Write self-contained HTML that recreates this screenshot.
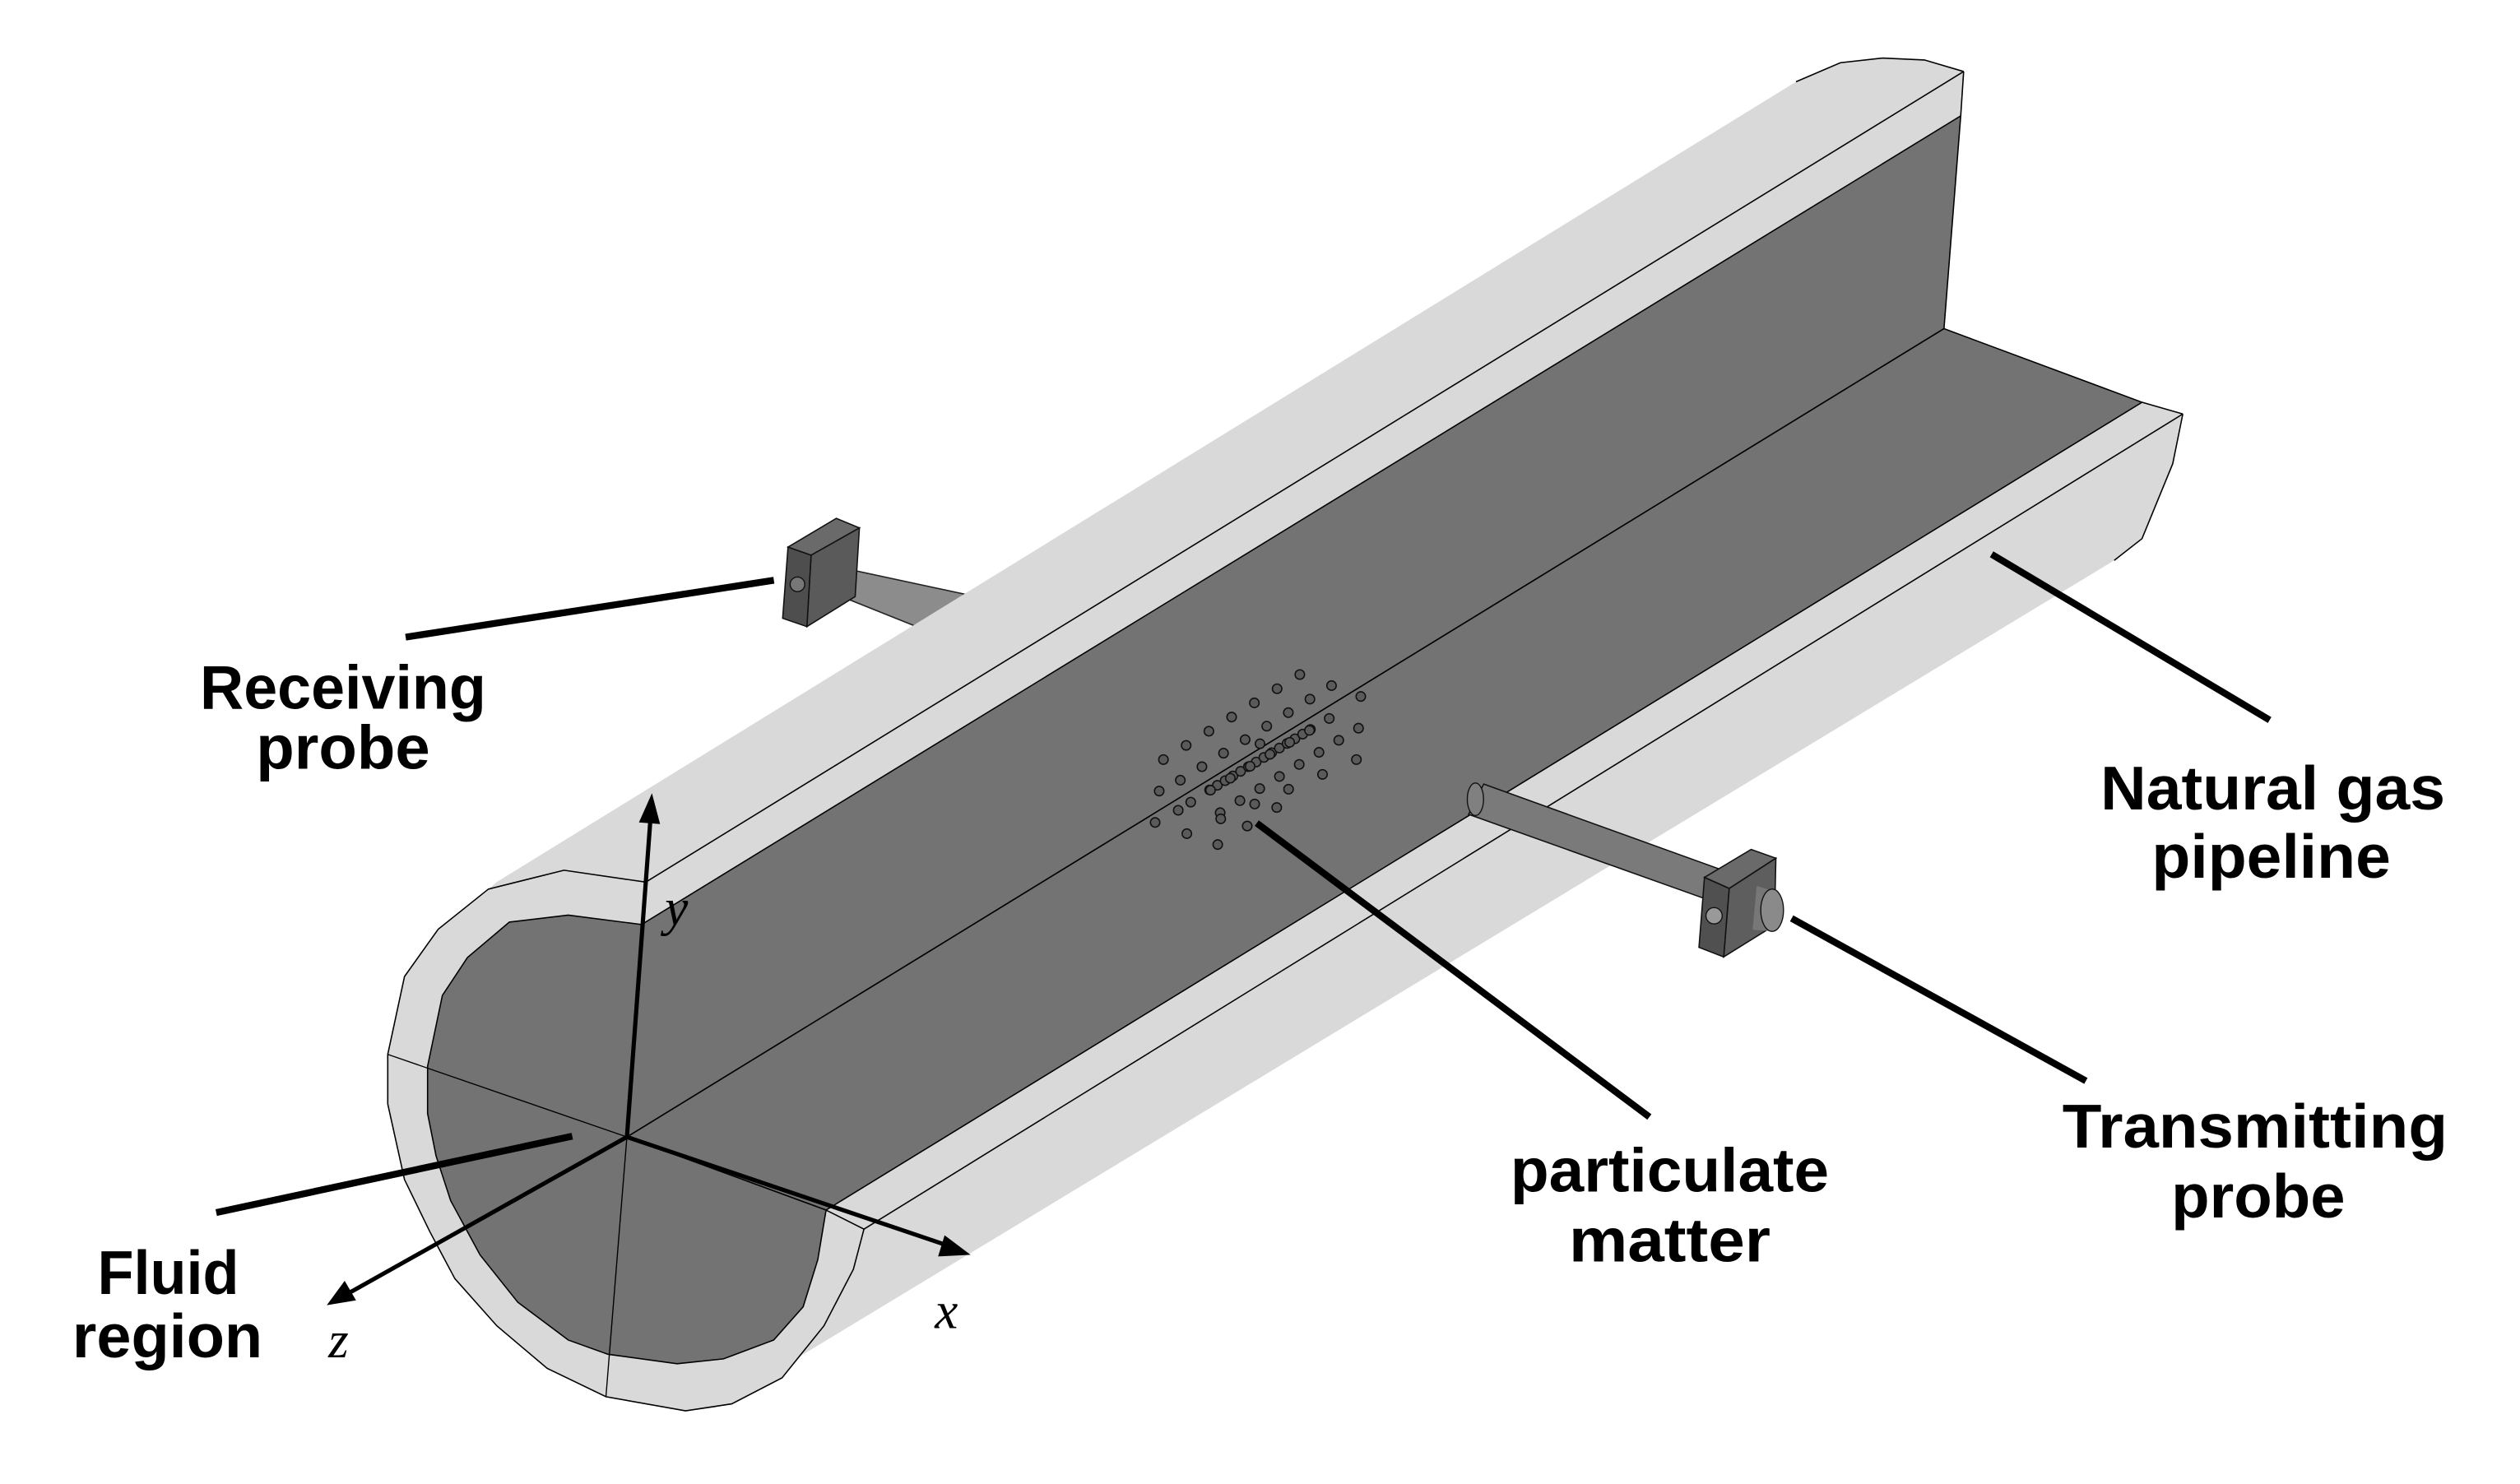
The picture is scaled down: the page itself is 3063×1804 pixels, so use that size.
<!DOCTYPE html>
<html><head><meta charset="utf-8"><style>
html,body{margin:0;padding:0;background:#fff;}
svg{display:block;}
.lbl{font-family:"Liberation Sans",sans-serif;font-weight:bold;font-size:38px;fill:#000;}
.ax{font-family:"Liberation Serif",serif;font-style:italic;font-size:32px;fill:#000;}
</style></head><body>
<svg width="3063" height="1804" viewBox="0 0 1550 913" preserveAspectRatio="none" xmlns="http://www.w3.org/2000/svg">
<rect width="1550" height="913" fill="#fff"/>
<!-- receiving probe rod (behind pipe) -->
<polygon points="509.2,347.5 600,367 580,392 506.7,362.7" fill="#8c8c8c" stroke="#222" stroke-width="0.8"/>
<polygon points="484.7,336.6 514.4,318.9 528.6,324.8 498.9,341.6" fill="#6a6a6a" stroke="#111" stroke-width="0.8"/>
<polygon points="498.9,341.6 528.6,324.8 526,367 496.3,385.5" fill="#5a5a5a" stroke="#111" stroke-width="0.8"/>
<polygon points="484.7,336.6 498.9,341.6 496.3,385.5 481.4,380.4" fill="#4e4e4e" stroke="#111" stroke-width="0.8"/>
<circle cx="490.5" cy="359.5" r="4.5" fill="#777" stroke="#111" stroke-width="0.7"/>
<!-- pipe body -->
<polygon points="305.6,542.6 1104.7,50.3 1132,38.6 1158,35.7 1183.7,36.9 1207.8,44 1206,71.3 1195.7,202.2 1317.5,247.5 1342.6,254.7 1336.4,285.3 1317.5,331.4 1300.4,344.8 440,866 421.7,868 372.7,859.3 336.6,841.9 305.6,815.7 279.8,786.7 264.3,757.6 248.8,725.7 238.5,679.2 238.5,648.7 248.8,600.8 269.5,571.7 300.4,547" fill="#d9d9d9"/>
<polyline points="1104.7,50.3 1132,38.6 1158,35.7 1183.7,36.9 1207.8,44" fill="none" stroke="#000" stroke-width="0.8"/>
<polyline points="1342.6,254.7 1336.4,285.3 1317.5,331.4 1300.4,344.8" fill="none" stroke="#000" stroke-width="0.8"/>
<!-- wall & floor -->
<polygon points="394.6,568.8 1206,71.3 1195.7,202.2 385.6,699.5" fill="#737373" stroke="#000" stroke-width="0.8"/>
<polygon points="385.6,699.5 1195.7,202.2 1317.5,247.5 508.1,744.5" fill="#737373" stroke="#000" stroke-width="0.8"/>
<line x1="397.2" y1="542.7" x2="1207.8" y2="44" stroke="#000" stroke-width="0.8"/>
<line x1="531.4" y1="756.2" x2="1342.6" y2="254.7" stroke="#000" stroke-width="0.8"/>
<line x1="1207.8" y1="44" x2="1206" y2="71.3" stroke="#000" stroke-width="0.8"/>
<line x1="1317.5" y1="247.5" x2="1342.6" y2="254.7" stroke="#000" stroke-width="0.8"/>
<!-- front face -->
<polygon points="397.2,542.7 346.9,535.4 300.4,547 269.5,571.7 248.8,600.8 238.5,648.7 238.5,679.2 248.8,725.7 264.3,757.6 279.8,786.7 305.6,815.7 336.6,841.9 372.7,859.3 421.7,868 450.1,863.7 481,847.7 506.8,815.7 524.9,780.9 531.4,756.2 508.1,744.5 385.6,699.5 394.6,568.8" fill="#d9d9d9" stroke="#000" stroke-width="0.8"/>
<polygon points="394.6,568.8 349.5,563 313.3,567.3 287.5,589.1 272.1,612.4 263,656 263,685 268.2,711.1 277.2,738.7 295.3,772.1 318.5,801.2 349.5,824.4 374,833.2 416.5,839 445,836 475.9,824.4 494,804 503,775 508.1,744.5 385.6,699.5" fill="#737373" stroke="#000" stroke-width="0.8"/>
<line x1="385.6" y1="699.5" x2="238.5" y2="648.7" stroke="#000" stroke-width="0.7"/>
<line x1="385.6" y1="699.5" x2="372.7" y2="859.3" stroke="#000" stroke-width="0.7"/>
<!-- particles -->
<g id="pts" fill="#5a5a5a" stroke="#111" stroke-width="0.8"></g>
<!-- transmitting probe -->
<polygon points="912.6,482.4 1057.7,534.7 1047.6,552.5 903.3,501" fill="#7a7a7a" stroke="#111" stroke-width="0.8"/>
<ellipse cx="907.5" cy="491.7" rx="5" ry="10" fill="#808080" stroke="#111" stroke-width="0.7"/>
<polygon points="1048.4,539.8 1077.1,522.6 1092.3,528 1063.6,546.6" fill="#6a6a6a" stroke="#111" stroke-width="0.8"/>
<polygon points="1063.6,546.6 1092.3,528 1091.4,569.3 1060.2,588.7" fill="#5e5e5e" stroke="#111" stroke-width="0.8"/>
<polygon points="1048.4,539.8 1063.6,546.6 1060.2,588.7 1045,582.8" fill="#505050" stroke="#111" stroke-width="0.8"/>
<polygon points="1080.5,545 1090,548 1092,573 1078,572" fill="#777"/>
<ellipse cx="1090" cy="560" rx="7" ry="13" fill="#8a8a8a" stroke="#111" stroke-width="0.7"/>
<circle cx="1054.3" cy="563.4" r="5" fill="#999" stroke="#111" stroke-width="0.7"/>
<!-- axes -->
<g stroke="#000" stroke-width="2.6" fill="none">
<line x1="385.6" y1="699.5" x2="400" y2="505"/>
<line x1="385.6" y1="699.5" x2="585" y2="767"/>
<line x1="385.6" y1="699.5" x2="212" y2="797"/>
</g>
<polygon points="401,488 393,506 406,507" fill="#000"/>
<polygon points="597,772 581,760 577,773" fill="#000"/>
<polygon points="201,803 219,800 212,788" fill="#000"/>
<text class="ax" x="409" y="569">y</text>
<text class="ax" x="575" y="817">x</text>
<text class="ax" x="202" y="835">z</text>
<!-- leader lines -->
<g stroke="#000" stroke-width="4.2" fill="none">
<line x1="249.5" y1="392" x2="476" y2="357"/>
<line x1="133" y1="746" x2="352" y2="699"/>
<line x1="773" y1="506.4" x2="1014.5" y2="687.2"/>
<line x1="1225" y1="341" x2="1396" y2="443"/>
<line x1="1102" y1="565" x2="1283" y2="665"/>
</g>
<!-- labels -->
<text class="lbl" x="211" y="436" text-anchor="middle" textLength="176" lengthAdjust="spacingAndGlyphs">Receiving</text>
<text class="lbl" x="211" y="473" text-anchor="middle" textLength="107" lengthAdjust="spacingAndGlyphs">probe</text>
<text class="lbl" x="1398" y="498" text-anchor="middle" textLength="212" lengthAdjust="spacingAndGlyphs">Natural gas</text>
<text class="lbl" x="1397" y="540" text-anchor="middle" textLength="147" lengthAdjust="spacingAndGlyphs">pipeline</text>
<text class="lbl" x="1027" y="733" text-anchor="middle" textLength="196" lengthAdjust="spacingAndGlyphs">particulate</text>
<text class="lbl" x="1027" y="776" text-anchor="middle" textLength="124" lengthAdjust="spacingAndGlyphs">matter</text>
<text class="lbl" x="1387" y="706" text-anchor="middle" textLength="237" lengthAdjust="spacingAndGlyphs">Transmitting</text>
<text class="lbl" x="1389" y="749" text-anchor="middle" textLength="107" lengthAdjust="spacingAndGlyphs">probe</text>
<text class="lbl" x="103.5" y="796" text-anchor="middle" textLength="87" lengthAdjust="spacingAndGlyphs">Fluid</text>
<text class="lbl" x="103" y="835" text-anchor="middle" textLength="117" lengthAdjust="spacingAndGlyphs">region</text>
</svg>
<script>
(function(){
var rows=[[715.6,467.3,799.5,415,7],[726,480,819,421.8,8],[713,486.7,837,428.5,3],[744,486,806,448.8,14],[732.4,493.5,817.6,442,8],[750.5,500,835.6,448,8],[730,512.9,834.3,467.3,6],[749,519.6,785.3,496.8,3],[710.5,506,724.7,498.5,2]];
var g=document.getElementById('pts'),ns='http://www.w3.org/2000/svg';
rows.forEach(function(r){for(var i=0;i<r[4];i++){var t=r[4]>1?i/(r[4]-1):0;var c=document.createElementNS(ns,'circle');c.setAttribute('cx',r[0]+(r[2]-r[0])*t);c.setAttribute('cy',r[1]+(r[3]-r[1])*t);c.setAttribute('r',2.9);g.appendChild(c);}});
})();
</script>
</body></html>
